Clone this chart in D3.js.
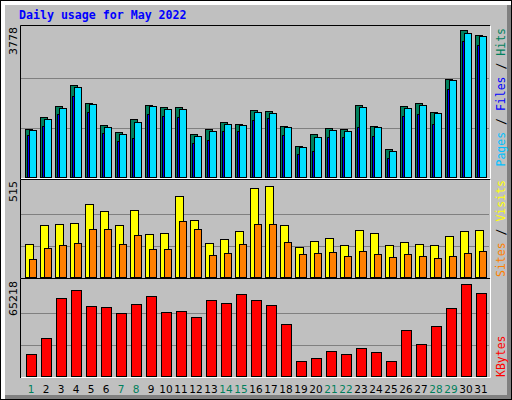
<!DOCTYPE html>
<html><head><meta charset="utf-8">
<script src="https://cdn.jsdelivr.net/npm/d3@7"></script>
<style>body{margin:0;background:#fff}</style>
</head><body>
<div id="chart"></div>
<script>
// Daily usage data, May 2022
const days = d3.range(1, 32);
const weekendDays = [1, 7, 8, 14, 15, 21, 22, 28, 29];
const hits = [1227,1554,1839,2360,1907,1353,1151,1504,1856,1806,1806,1101,1227,1428,1378,1730,1705,1327,798,1101,1252,1227,1856,1327,723,1831,1907,1680,2537,3778,3670];
const files = [1202,1504,1781,2310,1882,1302,1101,1428,1831,1756,1756,1050,1176,1378,1353,1680,1655,1277,773,1025,1202,1176,1806,1277,673,1781,1857,1655,2512,3720,3645];
const pages = [1083,1310,1637,2091,1663,1134,932,1008,1612,1562,1537,882,957,1184,1184,1461,1511,1083,605,680,1033,1033,1285,1058,479,1562,1637,1360,2267,3501,3401];
const visits = [186,294,300,305,414,370,294,376,240,251,457,321,191,213,262,500,515,294,170,202,218,181,267,251,181,197,186,181,229,262,267];
const sites = [99,164,181,191,273,273,186,235,159,159,316,273,126,137,186,300,300,197,132,137,143,121,148,132,115,132,121,110,121,137,148];
const kbytes = [15560,26700,55270,60830,49690,48990,44810,51080,56650,45500,46200,42020,53870,51780,58050,53870,50380,37140,10660,12750,17630,15560,19720,16930,10660,32260,22510,35050,48290,65218,58740];

const W = 512, H = 400;
const svg = d3.select('#chart').append('svg').attr('width', W).attr('height', H);

// frame
svg.append('rect').attr('width', W).attr('height', H).attr('fill', '#fff');
svg.append('rect').attr('x', 5).attr('y', 5).attr('width', W - 5).attr('height', H - 5).attr('fill', '#808080');
svg.append('rect').attr('x', 5).attr('y', 5).attr('width', W - 10).attr('height', H - 10).attr('fill', '#c0c0c0');
svg.append('rect').attr('x', 0.5).attr('y', 0.5).attr('width', W - 1).attr('height', H - 1).attr('fill', 'none').attr('stroke', '#000');

svg.append('text').attr('x', 19).attr('y', 19)
  .attr('font-family', 'DejaVu Sans Mono, monospace').attr('font-weight', 'bold')
  .attr('font-size', 11.6).attr('fill', '#0000ff')
  .text('Daily usage for May 2022');

const x = d3.scaleBand().domain(days).range([20, 485]).paddingInner(0);

function panel(y0, y1, max) {
  svg.append('rect').attr('x', 20).attr('y', y0).attr('width', 470).attr('height', y1 - y0)
    .attr('fill', '#c0c0c0');
  const y = d3.scaleLinear().domain([0, max]).range([y1 - 1, y1 - 1 - (y1 - y0 - 5)]);
  [1 / 3, 2 / 3].forEach(f => {
    svg.append('line').attr('x1', 21).attr('x2', 489)
      .attr('y1', Math.round(y(max * f)) + 0.5).attr('y2', Math.round(y(max * f)) + 0.5)
      .attr('stroke', '#808080').attr('stroke-width', 1);
  });
  return y;
}
function border(y0, y1) {
  svg.append('path').attr('d', `M20.5,${y1}V${y0 + 0.5}H490`).attr('fill', 'none').attr('stroke', '#000');
  svg.append('path').attr('d', `M21,${y1 - 0.5}H490.5V${y0 + 1}`).attr('fill', 'none').attr('stroke', '#fff');
}
function bars(y, data, dx, w, fill) {
  svg.append('g').selectAll('rect').data(data).enter().append('rect')
    .attr('x', (d, i) => x(days[i]) + 5 + dx + 0.5)
    .attr('y', d => Math.round(y(d)) + 0.5)
    .attr('width', w)
    .attr('height', d => Math.max(0, Math.round(y(0)) - Math.round(y(d))))
    .attr('fill', fill).attr('stroke', '#000').attr('stroke-width', 1);
}
function vlabel(xp, yp, anchor, max) {
  svg.append('text').attr('transform', `translate(${xp},${yp}) rotate(-90)`)
    .attr('text-anchor', anchor).attr('font-family', 'DejaVu Sans, sans-serif')
    .attr('font-size', 11).attr('fill', '#000').text(max);
}
function sideLabel(yp, anchor, parts) {
  const t = svg.append('text').attr('transform', `translate(505,${yp}) rotate(-90)`)
    .attr('text-anchor', anchor).attr('font-family', 'DejaVu Sans Mono, monospace')
    .attr('font-size', 11.5);
  parts.forEach(p => t.append('tspan').attr('fill', p[1]).text(p[0]));
}

// top panel: hits / files / pages
const yTop = panel(25, 178, 3778 * 1.01);
bars(yTop, hits, 0, 7, '#00805c');
bars(yTop, pages, 2, 5, '#0000ff');
bars(yTop, files, 4, 7, '#00e0ff');
border(25, 179);

// middle panel: visits / sites
const yMid = panel(179, 278, 515 * 1.03);
bars(yMid, visits, 0, 8, '#ffff00');
bars(yMid, sites, 4, 7, '#ff8000');
border(179, 279);

// bottom panel: kbytes
const yBot = panel(278, 377, 65218 * 1.02);
bars(yBot, kbytes, 1, 10, '#ff0000');
border(278, 378);

vlabel(17, 27, 'end', 3778);
vlabel(17, 181, 'end', 515);
vlabel(17, 281, 'end', 65218);

sideLabel(28, 'end', [['Pages', '#00c0ff'], [' / ', '#000'], ['Files', '#0000ff'], [' / ', '#000'], ['Hits', '#00805c']]);
sideLabel(277, 'start', [['Sites', '#ff8000'], [' / ', '#000'], ['Visits', '#ffff00']]);
sideLabel(377, 'start', [['KBytes', '#ff0000']]);

// day labels
svg.append('g').selectAll('text').data(days).enter().append('text')
  .attr('x', d => x(d) + 5 + 6)
  .attr('y', 393)
  .attr('text-anchor', 'middle')
  .attr('font-family', 'DejaVu Sans, sans-serif').attr('font-size', 10.5)
  .attr('fill', d => weekendDays.includes(d) ? '#00805c' : '#000')
  .text(d => d);
</script>
</body></html>
